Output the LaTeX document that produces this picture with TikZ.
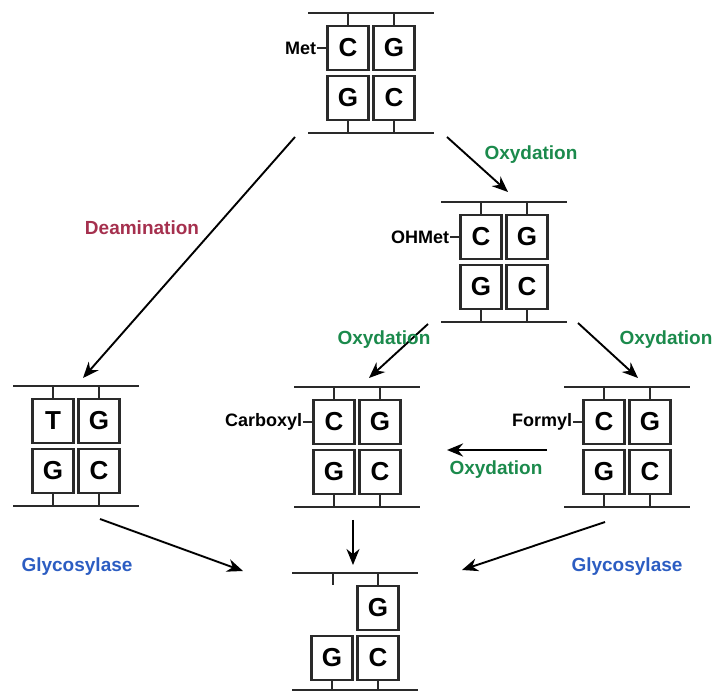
\documentclass[tikz,border=0pt]{standalone}
\usepackage{fontspec}
\setmainfont{Liberation Sans}
\usetikzlibrary{arrows.meta,calc}
\definecolor{deamred}{HTML}{A5304E}
\definecolor{oxgreen}{HTML}{1B8A4C}
\definecolor{glyblue}{HTML}{2C5DC2}
\definecolor{strandgray}{HTML}{2A2A2A}

\begin{document}
\begin{tikzpicture}[x=1pt,y=-1pt,>=Stealth,
        basebox/.style={draw=strandgray,line width=2.2pt,fill=white,
                        minimum width=41pt,minimum height=44pt,inner sep=0pt,
                        font=\fontsize{26}{26}\selectfont\bfseries},
        strand/.style={draw=strandgray,line width=2.2pt},
        modlabel/.style={anchor=east,inner sep=1pt,
                         font=\fontsize{18}{18}\selectfont\bfseries},
        arrow/.style={-{Stealth[length=16pt,width=13pt]},line width=1.9pt},
        steplabel/.style={font=\fontsize{19}{19}\selectfont\bfseries}]
    \useasboundingbox (0,0) rectangle (713,692);

    % DNA pieces: name / x / y of upper strand / four bases
    \foreach \u/\x/\y/\a/\b/\c/\d in {met/371/13/C/G/G/C, ohmet/504/202/C/G/G/C,
            tg/76/386/T/G/G/C, carb/357/387/C/G/G/C, form/627/387/C/G/G/C}{
        \coordinate (\u-t) at (\x,\y);
        \coordinate (\u-b) at (\x,\y+120);
        \node[basebox] (\u-a) at (\x-23,\y+35) {\a};
        \node[basebox] (\u-bb) at (\x+23,\y+35) {\b};
        \node[basebox] (\u-c) at (\x-23,\y+85) {\c};
        \node[basebox] (\u-d) at (\x+23,\y+85) {\d};
        \draw[strand] ($(\u-t)+(-63,0)$) -- ($(\u-t)+(63,0)$);
        \draw[strand] ($(\u-b)+(-63,0)$) -- ($(\u-b)+(63,0)$);
        \draw[strand] (\u-a.north) -- ++(0,-13);
        \draw[strand] (\u-bb.north) -- ++(0,-13);
        \draw[strand] (\u-c.south) -- ++(0,13);
        \draw[strand] (\u-d.south) -- ++(0,13);
    }

    % abasic site
    \coordinate (bot-t) at (355,573);
    \coordinate (bot-b) at (355,690);
    \node[basebox] (bot-bb) at (378,608) {G};
    \node[basebox] (bot-c) at (332,658) {G};
    \node[basebox] (bot-d) at (378,658) {C};
    \draw[strand] ($(bot-t)+(-63,0)$) -- ($(bot-t)+(63,0)$);
    \draw[strand] ($(bot-b)+(-63,0)$) -- ($(bot-b)+(63,0)$);
    \draw[strand] ($(bot-t)+(-22,0)$) -- ++(0,12);
    \draw[strand] (bot-bb.north) -- ++(0,-13);
    \draw[strand] (bot-c.south) -- (bot-c.south |- bot-b);
    \draw[strand] (bot-d.south) -- (bot-d.south |- bot-b);

    % modifications
    \foreach \u/\t in {met/Met, ohmet/OHMet, carb/Carboxyl, form/Formyl}{
        \node[modlabel] (\u-lab) at ([xshift=-9pt]\u-a.west) {\t};
        \draw[strand,line width=1.2pt] (\u-lab.east) -- (\u-a.west);
    }

    \draw[arrow] ($(met-b)+(-76,4)$) -- ($(tg-t)+(7,-8)$);
    \draw[arrow] ($(met-b)+(76,4)$) -- ($(ohmet-t)+(4,-10)$);
    \draw[arrow] ($(ohmet-b)+(-76,2)$) -- ($(carb-t)+(12,-9)$);
    \draw[arrow] ($(ohmet-b)+(74,1)$) -- ($(form-t)+(11,-9)$);
    \draw[arrow,line width=2.8pt] ($(form-t)+(-80,63)$) -- ($(carb-t)+(90,63)$);
    \draw[arrow] ($(tg-b)+(24,13)$) -- ($(bot-t)+(-112,-2)$);
    \draw[arrow] ($(carb-b)+(-4,13)$) -- ($(bot-t)+(-2,-8)$);
    \draw[arrow] ($(form-b)+(-22,15)$) -- ($(bot-t)+(107,-3)$);

    \node[steplabel,text=deamred] (deam) at (142,228) {Deamination};
    \node[steplabel,text=oxgreen] (ox-met) at (531,155) {Oxydation};
    \node[steplabel,text=oxgreen] (ox-carb) at (384,340) {Oxydation};
    \node[steplabel,text=oxgreen] (ox-form) at (666,340) {Oxydation};
    \node[steplabel,text=oxgreen] (ox-back) at (496,470) {Oxydation};
    \node[steplabel,text=glyblue] (gly-tg) at (77,567) {Glycosylase};
    \node[steplabel,text=glyblue] (gly-form) at (627,567) {Glycosylase};
\end{tikzpicture}
\end{document}
